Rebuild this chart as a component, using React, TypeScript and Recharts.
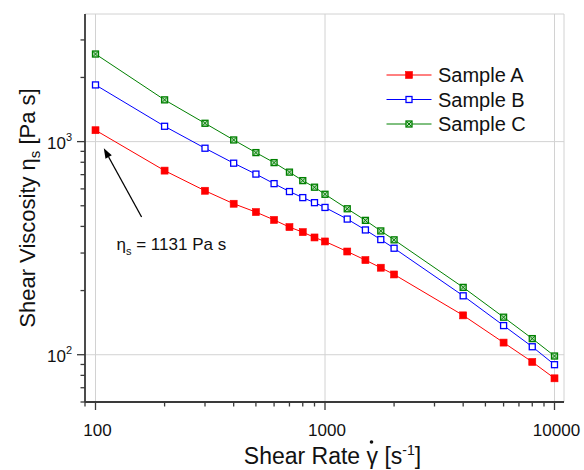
import React from 'react';
import { LineChart, Line, XAxis, YAxis, CartesianGrid, Legend, ReferenceLine, ReferenceDot } from 'recharts';

// ---- data ----
const shearRates = [100, 200, 300, 400, 500, 600, 700, 800, 900, 1000, 1250, 1500, 1750, 2000, 4000, 6000, 8000, 10000];
const sampleA = [1131, 731, 588, 511, 467, 429, 397, 376, 355, 340, 305, 278, 256, 238, 153, 114, 92.5, 77.5];
const sampleB = [1845, 1180, 931, 792, 704, 635, 583, 546, 517, 491, 433, 385, 347, 316, 189, 137, 109, 89.8];
const sampleC = [2576, 1570, 1219, 1018, 888, 797, 719, 656, 611, 566, 484, 427, 381, 346, 207, 150, 119, 98.6];

const seriesNames = ['Sample A', 'Sample B', 'Sample C'];
const seriesColors = ['#ff0000', '#0000ff', '#008000'];

const xTicks = [90, 100, 200, 300, 400, 500, 600, 700, 800, 900, 1000, 2000, 3000, 4000, 5000, 6000, 7000, 8000, 9000, 10000];
const xMajorTicks = [100, 1000, 10000];
const yTicks = [60, 70, 80, 90, 100, 200, 300, 400, 500, 600, 700, 800, 900, 1000, 2000, 3000];
const yMajorTicks = [100, 1000];
const yMajorExp: Record<number, string> = { 100: '2', 1000: '3' };

const xDomain = [90, 11000];
const yDomain = [60, 3970];

const annotationValue = 1131;
const arrowTail = { x: 158.8, y: 443 };
const arrowTip = { x: 108.7, y: 931 };
const annotationAnchor = { x: 123.5, y: 310 };

const rows = shearRates.map((x, i) => ({ x, a: sampleA[i], b: sampleB[i], c: sampleC[i] }));

const FONT = '"Liberation Sans", Arial, sans-serif';
const AXIS = '#3a3a3a';

const Marker = ({ kind, cx, cy }: { kind: number; cx: number; cy: number }) => {
  const s = 7;
  const h = s / 2;
  if (kind === 0) {
    return <rect x={cx - h} y={cy - h} width={s} height={s} fill={seriesColors[0]} stroke={seriesColors[0]} strokeWidth={0.6} />;
  }
  if (kind === 1) {
    return <rect x={cx - h + 0.5} y={cy - h + 0.5} width={s - 1} height={s - 1} fill="#ffffff" stroke={seriesColors[1]} strokeWidth={1.3} />;
  }
  return (
    <g>
      <rect x={cx - h + 0.5} y={cy - h + 0.5} width={s - 1} height={s - 1} fill="#b8dcb8" stroke={seriesColors[2]} strokeWidth={1.3} />
      <line x1={cx - h + 1} y1={cy - h + 1} x2={cx + h - 1} y2={cy + h - 1} stroke={seriesColors[2]} strokeWidth={1} />
      <line x1={cx - h + 1} y1={cy + h - 1} x2={cx + h - 1} y2={cy - h + 1} stroke={seriesColors[2]} strokeWidth={1} />
    </g>
  );
};

const makeDot = (kind: number) => (props: any) => {
  const { cx, cy, index } = props;
  if (cx == null || cy == null) return <g key={`d${kind}-${index}`} />;
  return <g key={`d${kind}-${index}`}><Marker kind={kind} cx={cx} cy={cy} /></g>;
};

const XTick = (props: any) => {
  const { x, y, payload } = props;
  const v = payload.value;
  const major = xMajorTicks.includes(v);
  return (
    <g>
      <line x1={x} x2={x} y1={y} y2={y + (major ? 8 : 4.5)} stroke={AXIS} strokeWidth={1.3} />
      {major && (
        <text x={x + 2} y={y + 34} textAnchor="middle" fontSize={17} fontFamily={FONT} fill="#111">
          {v}
        </text>
      )}
    </g>
  );
};

const YTick = (props: any) => {
  const { x, y, payload } = props;
  const v = payload.value;
  const major = yMajorTicks.includes(v);
  return (
    <g>
      <line x1={x} x2={x - (major ? 8 : 4.5)} y1={y} y2={y} stroke={AXIS} strokeWidth={1.3} />
      {major && (
        <text x={x - 13} y={y + 7.5} textAnchor="end" fontSize={17} fontFamily={FONT} fill="#111">
          <tspan>10</tspan>
          <tspan dy={-8} fontSize={11}>{yMajorExp[v]}</tspan>
        </text>
      )}
    </g>
  );
};

const XTitle = (props: any) => {
  const vb = props.viewBox || { x: 85, y: 402, width: 479, height: 68 };
  const cx = vb.x + vb.width / 2 + 8;
  const by = 464;
  return (
    <g>
      <text x={cx} y={by} textAnchor="middle" fontSize={23} fontFamily={FONT} fill="#111">
        <tspan>Shear Rate γ [s</tspan>
        <tspan dy={-9} fontSize={14}>-1</tspan>
        <tspan dy={9}>]</tspan>
      </text>
      <circle cx={cx + 39} cy={442} r={1.8} fill="#111" />
    </g>
  );
};

const YTitle = (props: any) => {
  const vb = props.viewBox || { x: 0, y: 14, width: 85, height: 388 };
  const cy = vb.y + vb.height / 2;
  const bx = 35;
  return (
    <text x={bx} y={cy} transform={`rotate(-90, ${bx}, ${cy})`} textAnchor="middle" fontSize={22} fontFamily={FONT} fill="#111">
      <tspan>Shear Viscosity η</tspan>
      <tspan dy={5} fontSize={15}>s</tspan>
      <tspan dy={-5}> [Pa s]</tspan>
    </text>
  );
};

const LegendBox = () => (
  <svg width={165} height={84} style={{ display: 'block', background: '#ffffff' }}>
    {seriesNames.map((name, i) => {
      const cy = 18 + i * 24.5;
      return (
        <g key={name}>
          <line x1={13.5} x2={58.5} y1={cy} y2={cy} stroke={seriesColors[i]} strokeWidth={1} />
          <Marker kind={i} cx={36} cy={cy} />
          <text x={65} y={cy + 7} fontSize={20} fontFamily={FONT} fill="#111">{name}</text>
        </g>
      );
    })}
  </svg>
);

const ArrowShape = (props: any) => {
  const { x1, y1, x2, y2 } = props;
  if ([x1, y1, x2, y2].some((v) => v == null || Number.isNaN(v))) return <g />;
  // x1,y1 = tail, x2,y2 = tip
  const ang = Math.atan2(y2 - y1, x2 - x1);
  const L = 10;
  const W = 3.6;
  const bx = x2 - L * Math.cos(ang);
  const by = y2 - L * Math.sin(ang);
  const px = -Math.sin(ang) * W;
  const py = Math.cos(ang) * W;
  return (
    <g>
      <line x1={x1} y1={y1} x2={bx} y2={by} stroke="#000" strokeWidth={1.3} />
      <polygon points={`${x2},${y2} ${bx + px},${by + py} ${bx - px},${by - py}`} fill="#000" />
    </g>
  );
};

const AnnotationText = (props: any) => {
  const { cx, cy } = props;
  if (cx == null || cy == null) return <g />;
  return (
    <text x={cx} y={cy} fontSize={17} fontFamily={FONT} fill="#111">
      <tspan>η</tspan>
      <tspan dy={5} fontSize={11}>s</tspan>
      <tspan dy={-5}>{` = ${annotationValue} Pa s`}</tspan>
    </text>
  );
};

export default function App() {
  return (
    <div style={{ position: 'absolute', left: 0, top: 0, width: 584, height: 470, background: '#fff' }}>
      <LineChart width={584} height={470} data={rows} margin={{ top: 14, right: 20, bottom: 0, left: 0 }}>
        <XAxis xAxisId="g" dataKey="x" type="number" scale="log" domain={xDomain} allowDataOverflow ticks={xMajorTicks} hide />
        <YAxis yAxisId="g" type="number" scale="log" domain={yDomain} allowDataOverflow ticks={yMajorTicks} hide />
        <CartesianGrid xAxisId="g" yAxisId="g" stroke="#d2d2d2" strokeWidth={1} />
        <XAxis
          dataKey="x"
          type="number"
          scale="log"
          domain={xDomain}
          allowDataOverflow
          ticks={xTicks}
          interval={0}
          tick={<XTick />}
          tickLine={false}
          tickSize={0}
          tickMargin={0}
          height={68}
          axisLine={{ stroke: AXIS, strokeWidth: 1.8 }}
          label={<XTitle />}
        />
        <YAxis
          type="number"
          scale="log"
          domain={yDomain}
          allowDataOverflow
          ticks={yTicks}
          interval={0}
          tick={<YTick />}
          tickLine={false}
          tickSize={0}
          tickMargin={0}
          width={85}
          axisLine={{ stroke: AXIS, strokeWidth: 1.8 }}
          label={<YTitle />}
        />
        <XAxis xAxisId="top" orientation="top" dataKey="x" type="number" scale="log" domain={xDomain} allowDataOverflow height={0} tick={false} tickLine={false} axisLine={{ stroke: AXIS, strokeWidth: 1.8 }} />
        <YAxis yAxisId="right" orientation="right" type="number" scale="log" domain={yDomain} allowDataOverflow width={0} tick={false} tickLine={false} axisLine={{ stroke: AXIS, strokeWidth: 1.8 }} />
        <Line dataKey="a" name={seriesNames[0]} stroke={seriesColors[0]} strokeWidth={1} dot={makeDot(0)} activeDot={false} isAnimationActive={false} />
        <Line dataKey="b" name={seriesNames[1]} stroke={seriesColors[1]} strokeWidth={1} dot={makeDot(1)} activeDot={false} isAnimationActive={false} />
        <Line dataKey="c" name={seriesNames[2]} stroke={seriesColors[2]} strokeWidth={1} dot={makeDot(2)} activeDot={false} isAnimationActive={false} />
        <ReferenceLine
          segment={[arrowTail, arrowTip]}
          shape={<ArrowShape />}
          ifOverflow="visible"
        />
        <ReferenceDot x={annotationAnchor.x} y={annotationAnchor.y} r={0} shape={<AnnotationText />} ifOverflow="visible" />
        <Legend
          layout="horizontal"
          verticalAlign="middle"
          align="center"
          content={<LegendBox />}
          wrapperStyle={{ position: 'absolute', left: 373, top: 57, width: 165, height: 84, margin: 0, padding: 0 }}
        />
      </LineChart>
    </div>
  );
}
